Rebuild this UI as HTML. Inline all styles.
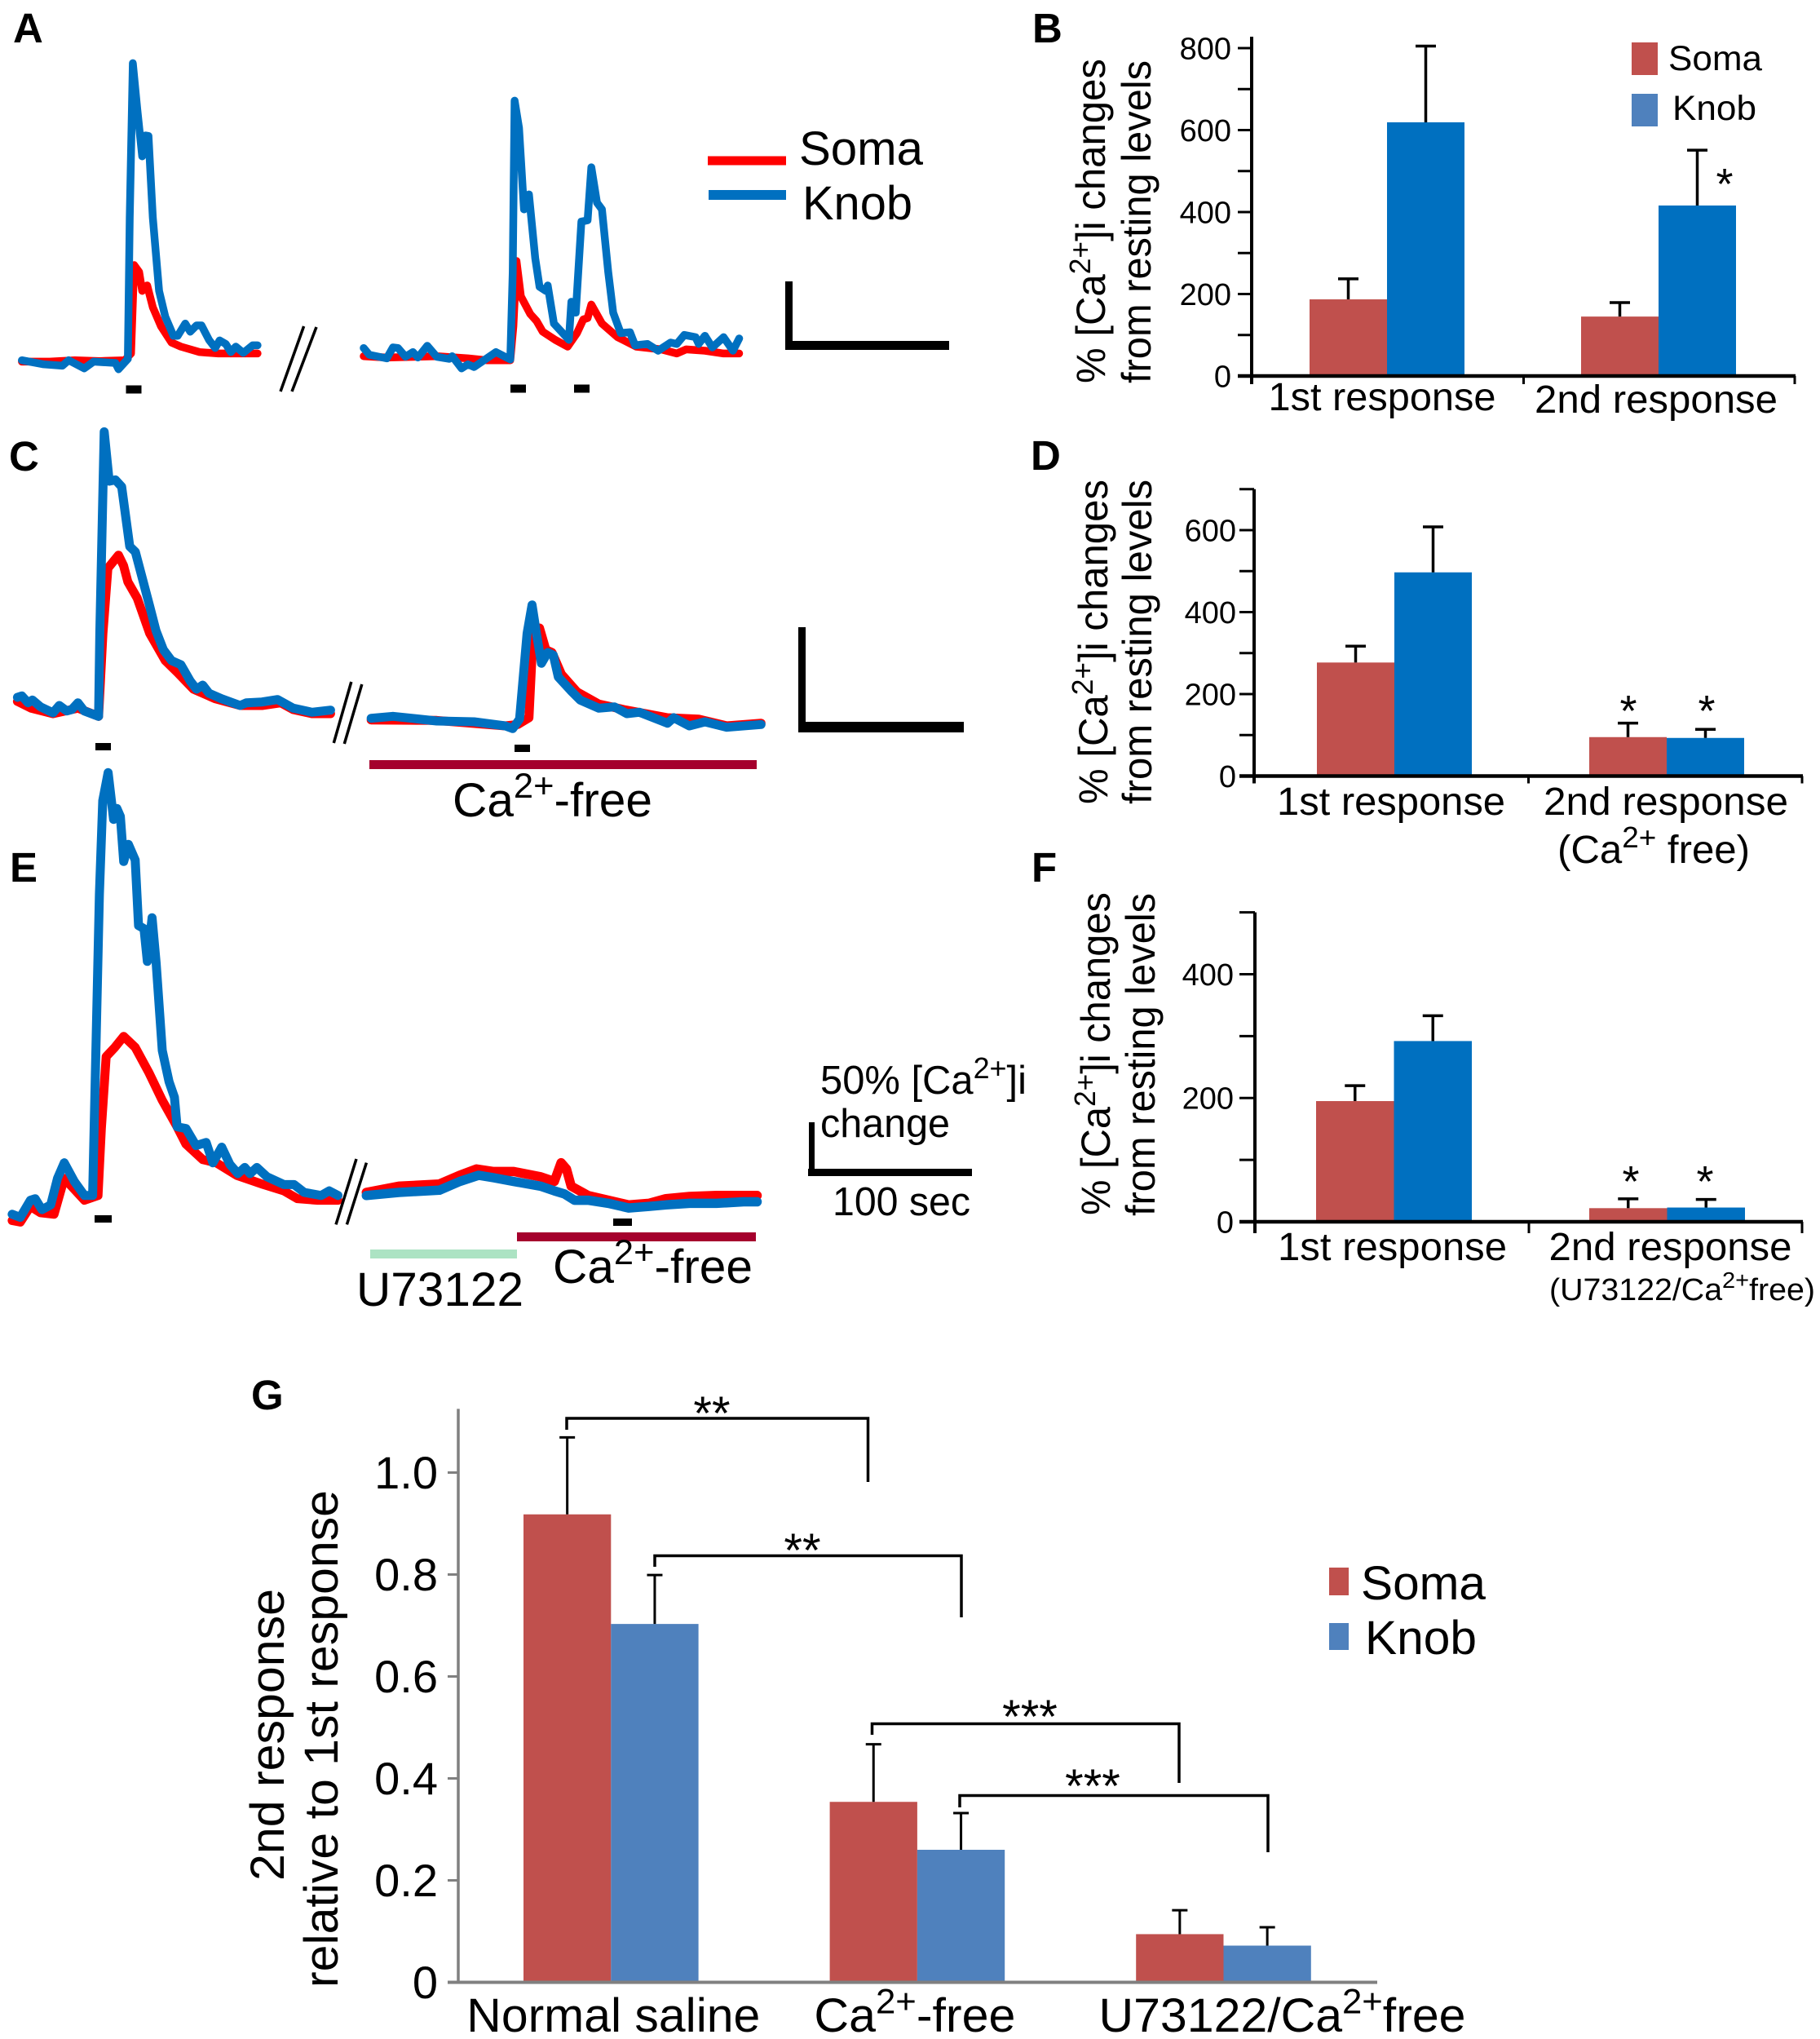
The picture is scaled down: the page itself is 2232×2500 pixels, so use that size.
<!DOCTYPE html>
<html lang="en">
<head>
<meta charset="utf-8">
<title>Calcium responses in soma and knob</title>
<style>
html,body{margin:0;padding:0;background:#fff;}
svg{display:block;}
text{font-family:"Liberation Sans",sans-serif;fill:#000;}
.panel{font-weight:bold;font-size:51px;}
</style>
</head>
<body>
<svg id="fig" xmlns="http://www.w3.org/2000/svg" width="2232" height="2500" viewBox="0 0 2232 2500">
  <rect x="0" y="0" width="2232" height="2500" fill="#fff"/>

  <g id="traces"></g>
  <g id="bars"></g>

  <text class="panel" x="16" y="52">A</text>
  <text class="panel" x="1266" y="52">B</text>
  <text class="panel" x="11" y="577">C</text>
  <text class="panel" x="1264" y="576">D</text>
  <text class="panel" x="12" y="1081">E</text>
  <text class="panel" x="1265" y="1081">F</text>
  <text class="panel" x="308" y="1728">G</text>

  <!-- panel A legend and scale -->
  <line x1="868" x2="964" y1="197" y2="197" stroke="#f00" stroke-width="11"/>
  <line x1="869" x2="964" y1="239" y2="239" stroke="#0070c0" stroke-width="12"/>
  <text x="980" y="202" font-size="58" textLength="152" lengthAdjust="spacingAndGlyphs">Soma</text>
  <text x="984" y="269" font-size="58" textLength="135" lengthAdjust="spacingAndGlyphs">Knob</text>
  <rect x="963" y="345" width="9" height="84" fill="#000"/>
  <rect x="963" y="418" width="201" height="11" fill="#000"/>
  <line x1="372.6" y1="400" x2="344" y2="480" stroke="#000" stroke-width="3.5"/>
  <line x1="388" y1="401" x2="358" y2="480" stroke="#000" stroke-width="3.5"/>
  <rect x="154.5" y="472.5" width="19" height="10" fill="#000"/>
  <rect x="626" y="471.5" width="19" height="10" fill="#000"/>
  <rect x="704" y="471.5" width="19" height="10" fill="#000"/>

  <!-- panel C annotations -->
  <rect x="979" y="769" width="9" height="129" fill="#000"/>
  <rect x="979" y="885" width="203" height="13" fill="#000"/>
  <line x1="430.8" y1="836" x2="409.3" y2="911" stroke="#000" stroke-width="3.5"/>
  <line x1="443.8" y1="839" x2="422.3" y2="912" stroke="#000" stroke-width="3.5"/>
  <rect x="117" y="911" width="19" height="9" fill="#000"/>
  <rect x="631" y="913" width="19" height="9" fill="#000"/>
  <rect x="453" y="932" width="475" height="11" fill="#a5002d"/>
  <text x="555" y="1001" font-size="58" textLength="245" lengthAdjust="spacingAndGlyphs">Ca<tspan font-size="43" dy="-23">2+</tspan><tspan dy="23">-free</tspan></text>

  <!-- panel E annotations -->
  <text x="1006" y="1341" font-size="49" textLength="253" lengthAdjust="spacingAndGlyphs">50% [Ca<tspan font-size="36" dy="-19">2+</tspan><tspan dy="19">]i</tspan></text>
  <text x="1006" y="1394" font-size="49" textLength="159" lengthAdjust="spacingAndGlyphs">change</text>
  <text x="1021" y="1490" font-size="49" textLength="169" lengthAdjust="spacingAndGlyphs">100 sec</text>
  <rect x="992" y="1376" width="7" height="66" fill="#000"/>
  <rect x="991" y="1433" width="201" height="9" fill="#000"/>
  <line x1="437" y1="1421" x2="412" y2="1501.4" stroke="#000" stroke-width="3.5"/>
  <line x1="449.4" y1="1425.6" x2="425.4" y2="1501.4" stroke="#000" stroke-width="3.5"/>
  <rect x="116" y="1490" width="21" height="9" fill="#000"/>
  <rect x="752" y="1494" width="23" height="9" fill="#000"/>
  <rect x="634" y="1511" width="293" height="11" fill="#a5002d"/>
  <rect x="454" y="1532" width="180" height="11" fill="#ace3c3"/>
  <text x="678" y="1573" font-size="58" textLength="245" lengthAdjust="spacingAndGlyphs">Ca<tspan font-size="43" dy="-23">2+</tspan><tspan dy="23">-free</tspan></text>
  <text x="437" y="1601" font-size="58" textLength="205" lengthAdjust="spacingAndGlyphs">U73122</text>

  <!-- panel B text -->
  <text transform="translate(1355,470) rotate(-90)" font-size="50" textLength="398" lengthAdjust="spacingAndGlyphs">% [Ca<tspan font-size="36" dy="-18">2+</tspan><tspan dy="18">]i changes</tspan></text>
  <text transform="translate(1411,470) rotate(-90)" font-size="50" textLength="396" lengthAdjust="spacingAndGlyphs">from resting levels</text>
  <rect x="2001" y="52" width="32" height="40" fill="#c0504d"/>
  <rect x="2001" y="115" width="32" height="40" fill="#4f81bd"/>
  <text x="2046" y="86" font-size="43" textLength="115" lengthAdjust="spacingAndGlyphs">Soma</text>
  <text x="2051" y="147" font-size="43" textLength="103" lengthAdjust="spacingAndGlyphs">Knob</text>
  <text x="2115" y="244" font-size="54" text-anchor="middle">*</text>

  <!-- panel D text -->
  <text transform="translate(1358,986) rotate(-90)" font-size="50" textLength="398" lengthAdjust="spacingAndGlyphs">% [Ca<tspan font-size="36" dy="-18">2+</tspan><tspan dy="18">]i changes</tspan></text>
  <text transform="translate(1412,986) rotate(-90)" font-size="50" textLength="398" lengthAdjust="spacingAndGlyphs">from resting levels</text>
  <text x="1910" y="1058" font-size="48" textLength="236" lengthAdjust="spacingAndGlyphs">(Ca<tspan font-size="36" dy="-19">2+</tspan><tspan dy="19"> free)</tspan></text>
  <text x="1997" y="890" font-size="54" text-anchor="middle">*</text>
  <text x="2093" y="890" font-size="54" text-anchor="middle">*</text>

  <!-- panel F text -->
  <text transform="translate(1361,1490) rotate(-90)" font-size="50" textLength="396" lengthAdjust="spacingAndGlyphs">% [Ca<tspan font-size="36" dy="-18">2+</tspan><tspan dy="18">]i changes</tspan></text>
  <text transform="translate(1416,1491) rotate(-90)" font-size="50" textLength="396" lengthAdjust="spacingAndGlyphs">from resting levels</text>
  <text x="1900" y="1594" font-size="38" textLength="326" lengthAdjust="spacingAndGlyphs">(U73122/Ca<tspan font-size="28" dy="-15">2+</tspan><tspan dy="15">free)</tspan></text>
  <text x="2000" y="1467" font-size="54" text-anchor="middle">*</text>
  <text x="2091" y="1467" font-size="54" text-anchor="middle">*</text>

  <!-- panel G text -->
  <text transform="translate(348,2306) rotate(-90)" font-size="58" textLength="358" lengthAdjust="spacingAndGlyphs">2nd response</text>
  <text transform="translate(414,2437) rotate(-90)" font-size="58" textLength="610" lengthAdjust="spacingAndGlyphs">relative to 1st response</text>
  <rect x="1630" y="1922" width="24" height="34" fill="#c0504d"/>
  <rect x="1630" y="1990" width="24" height="33" fill="#4f81bd"/>
  <text x="1669" y="1961" font-size="58" textLength="153" lengthAdjust="spacingAndGlyphs">Soma</text>
  <text x="1674" y="2028" font-size="58" textLength="137" lengthAdjust="spacingAndGlyphs">Knob</text>
  <g fill="none" stroke="#000" stroke-width="3.5">
    <path d="M695 1753V1739H1064.5V1817"/>
    <path d="M803 1921V1907.5H1179V1983"/>
    <path d="M1069.5 2127V2113.5H1446V2186"/>
    <path d="M1177 2216V2201.5H1555V2271"/>
  </g>
  <text x="873" y="1753" font-size="58" text-anchor="middle">**</text>
  <text x="984" y="1921" font-size="58" text-anchor="middle">**</text>
  <text x="1263" y="2125" font-size="58" text-anchor="middle">***</text>
  <text x="1340" y="2210" font-size="58" text-anchor="middle">***</text>
</svg>

<script>
// ---------- trace data (t = time units, v = response units) ----------
const a1SomaTime = [35,80,120,160,200,210,215,223,228,236,245,258,275,290,320,350,380,413];
const a1SomaValue = [70,70,75,72,75,100,425,400,330,350,270,200,140,125,105,100,100,100];
const a1KnobTime = [35,70,100,110,135,150,185,190,205,208,213,220,228,233,238,245,255,265,278,285,297,305,315,323,335,345,352,362,370,378,390,405,413];
const a1KnobValue = [75,60,55,75,45,70,65,42,80,600,1168,1000,825,902,900,600,330,235,165,165,210,180,203,203,150,120,148,135,105,125,102,130,130];
const a2SomaTime = [583,620,700,750,780,818,823,828,835,850,860,870,890,910,925,935,942,948,965,990,1020,1060,1085,1100,1130,1160,1185];
const a2SomaValue = [90,85,90,82,75,75,200,440,310,245,220,180,150,125,175,225,230,280,210,160,125,115,100,115,110,100,100];
const a2KnobTime = [583,592,620,630,638,650,662,670,685,700,720,725,740,750,760,795,818,822,825,832,840,848,858,865,875,878,888,912,916,923,932,942,948,957,965,975,983,995,1010,1018,1038,1055,1075,1085,1097,1115,1120,1130,1142,1160,1175,1185];
const a2KnobValue = [120,95,82,122,120,88,105,85,128,88,80,90,45,60,50,105,78,400,1030,930,630,685,450,345,330,350,210,150,290,250,585,590,785,655,630,400,250,175,178,130,135,110,140,135,168,160,135,165,122,160,110,155];

const c1SomaTime = [28,50,85,125,158,165,173,190,198,205,220,240,265,285,310,345,385,420,450,470,500,530];
const c1SomaValue = [150,125,105,125,95,400,640,688,650,590,530,400,300,255,195,160,135,135,145,120,105,105];
const c1KnobTime = [28,35,45,52,65,85,95,107,115,125,135,158,160,167,175,185,195,208,217,240,250,262,275,290,305,315,325,335,355,385,395,420,445,470,500,530];
const c1KnobValue = [165,170,145,155,130,108,135,115,120,145,115,95,400,1142,960,965,940,720,700,500,410,340,300,285,225,195,210,180,160,135,145,148,157,125,110,118];
const c2SomaTime = [595,700,810,830,848,855,865,875,885,900,925,960,1000,1070,1120,1165,1220];
const c2SomaValue = [82,80,60,65,90,420,420,340,330,250,185,140,120,90,85,60,70];
const c2KnobTime = [595,630,660,700,760,810,822,833,845,853,860,868,878,887,895,915,930,960,985,1005,1025,1070,1080,1105,1130,1165,1220];
const c2KnobValue = [88,95,88,78,75,60,50,85,400,505,400,290,330,320,240,190,155,125,130,105,110,70,90,60,75,55,65];

const e1SomaTime = [18,30,45,60,80,95,125,145,150,157,170,183,200,220,240,262,275,300,320,350,390,420,440,470,500];
const e1SomaValue = [55,50,100,80,75,190,120,135,350,580,610,645,610,530,440,355,300,250,240,200,170,150,125,120,120];
const e1KnobTime = [18,30,45,52,62,75,85,95,110,125,137,147,152,160,168,173,178,183,190,200,205,213,218,225,231,240,250,258,262,275,290,305,315,328,340,352,362,370,380,395,420,435,450,475,487,500];
const e1KnobValue = [75,65,120,125,90,105,190,240,180,135,135,1100,1400,1490,1340,1375,1350,1205,1260,1210,1000,990,885,1025,880,600,500,450,355,350,295,305,240,290,235,205,225,205,225,195,170,170,145,135,150,135];
const e2SomaTime = [542,590,650,680,705,730,760,800,820,830,838,845,870,900,930,960,985,1020,1060,1120];
const e2SomaValue = [145,165,172,200,220,212,212,195,180,240,220,165,135,120,105,110,125,132,135,135];
const e2KnobTime = [542,590,650,680,708,730,760,800,820,835,850,870,900,930,960,985,1020,1060,1100,1120];
const e2KnobValue = [135,145,152,180,200,192,180,165,150,140,120,120,110,95,100,105,110,110,115,115];

// ---------- bar chart data ----------
const bCategories = ['1st response','2nd response'];
const bSomaValues = [187,145];
const bSomaErrors = [50,34];
const bKnobValues = [619,416];
const bKnobErrors = [186,135];
const bTickValues = [0,100,200,300,400,500,600,700,800];
const bTickLabels = ['0','','200','','400','','600','','800'];

const dCategories = ['1st response','2nd response'];
const dSomaValues = [277,95];
const dSomaErrors = [40,34];
const dKnobValues = [497,93];
const dKnobErrors = [111,21];
const dTickValues = [0,100,200,300,400,500,600,700];
const dTickLabels = ['0','','200','','400','','600',''];

const fCategories = ['1st response','2nd response'];
const fSomaValues = [195,22];
const fSomaErrors = [25,15];
const fKnobValues = [292,23];
const fKnobErrors = [41,13];
const fTickValues = [0,100,200,300,400,500];
const fTickLabels = ['0','','200','','400',''];

const gCategories = ['Normal saline','Ca^2+^-free','U73122/Ca^2+^free'];
const gSomaValues = [0.918,0.354,0.0945];
const gSomaErrors = [0.151,0.113,0.047];
const gKnobValues = [0.703,0.26,0.072];
const gKnobErrors = [0.096,0.072,0.036];
const gTickValues = [0,0.2,0.4,0.6,0.8,1.0];
const gTickLabels = ['0','0.2','0.4','0.6','0.8','1.0'];

// ---------- helpers ----------
const NS = 'http://www.w3.org/2000/svg';
const traceLayer = document.getElementById('traces');
const barLayer = document.getElementById('bars');
function svgEl(tag, attrs, parent) {
  const el = document.createElementNS(NS, tag);
  for (const k in attrs) el.setAttribute(k, attrs[k]);
  parent.appendChild(el);
  return el;
}
function richText(el, str, fs) {
  const parts = str.split('^');
  let shift = 0;
  parts.forEach(function (part, i) {
    if (!part) return;
    const ts = document.createElementNS(NS, 'tspan');
    ts.textContent = part;
    if (i % 2 === 1) {
      ts.setAttribute('font-size', fs * 0.74);
      ts.setAttribute('dy', -fs * 0.39);
      shift = fs * 0.39;
    } else if (shift) {
      ts.setAttribute('dy', shift);
      shift = 0;
    }
    el.appendChild(ts);
  });
}

// ---------- traces ----------
const scaleAC = { xs: 0.765, ys: 0.3333 };
const scaleE = { xs: 0.829, ys: 0.3827 };
function timeToX(scale, t) { return t * scale.xs; }
function valueToY(scale, y0, v) { return y0 - v * scale.ys; }
function drawTrace(scale, y0, times, values, color, width, label) {
  const pts = times.map(function (t, i) {
    return timeToX(scale, t).toFixed(1) + ',' + valueToY(scale, y0, values[i]).toFixed(1);
  }).join(' ');
  const line = svgEl('polyline', { points: pts, fill: 'none', stroke: color, 'stroke-width': width, 'stroke-linejoin': 'round', 'stroke-linecap': 'round' }, traceLayer);
  
  
}
const RED = '#ff0000', BLUE = '#0070c0';
drawTrace(scaleAC, 466.7, a1SomaTime, a1SomaValue, RED, 9.5, 'trace-a-first-soma');
drawTrace(scaleAC, 466.7, a1KnobTime, a1KnobValue, BLUE, 9.5, 'trace-a-first-knob');
drawTrace(scaleAC, 466.7, a2SomaTime, a2SomaValue, RED, 9.5, 'trace-a-second-soma');
drawTrace(scaleAC, 466.7, a2KnobTime, a2KnobValue, BLUE, 9.5, 'trace-a-second-knob');
drawTrace(scaleAC, 910, c1SomaTime, c1SomaValue, RED, 11, 'trace-c-first-soma');
drawTrace(scaleAC, 910, c1KnobTime, c1KnobValue, BLUE, 11, 'trace-c-first-knob');
drawTrace(scaleAC, 910, c2SomaTime, c2SomaValue, RED, 11, 'trace-c-second-soma');
drawTrace(scaleAC, 910, c2KnobTime, c2KnobValue, BLUE, 11, 'trace-c-second-knob');
drawTrace(scaleE, 1517.5, e1SomaTime, e1SomaValue, RED, 11, 'trace-e-first-soma');
drawTrace(scaleE, 1517.5, e1KnobTime, e1KnobValue, BLUE, 11, 'trace-e-first-knob');
drawTrace(scaleE, 1517.5, e2SomaTime, e2SomaValue, RED, 11.5, 'trace-e-second-soma');
drawTrace(scaleE, 1517.5, e2KnobTime, e2KnobValue, BLUE, 11.5, 'trace-e-second-knob');

// ---------- bar charts ----------
function drawBarChart(cfg, categories, soma, somaErr, knob, knobErr, tickValues, tickLabels) {
  const g = svgEl('g', {}, barLayer);
  
  
  const y = function (v) { return cfg.y0 - v * cfg.pxPerUnit; };
  const barLeft = function (i, s) { return cfg.start + i * cfg.step + s * cfg.barW; };

  function drawSeries(values, errors, s, color, label) {
    values.forEach(function (v, i) {
      const left = barLeft(i, s);
      const bar = svgEl('rect', { x: left, y: y(v), width: cfg.barW, height: cfg.y0 - y(v), fill: color }, g);
      
      
      const cx = left + cfg.barW / 2;
      const top = y(v + errors[i]);
      const stem = svgEl('line', { x1: cx, x2: cx, y1: y(v), y2: top, stroke: '#000', 'stroke-width': cfg.errW }, g);
      
      
      const cap = svgEl('line', { x1: cx - cfg.capW / 2, x2: cx + cfg.capW / 2, y1: top, y2: top, stroke: '#000', 'stroke-width': cfg.errW }, g);
      
      
    });
  }
  drawSeries(soma, somaErr, 0, cfg.somaColor, 'soma');
  drawSeries(knob, knobErr, 1, cfg.knobColor, 'knob');

  const yAxis = svgEl('line', { x1: cfg.axisX, x2: cfg.axisX, y1: y(cfg.top) - (cfg.topOver || 0), y2: cfg.y0 + cfg.tickDown, stroke: cfg.axisColor, 'stroke-width': cfg.axisW }, g);
  
  
  const xAxis = svgEl('line', { x1: cfg.xLeft, x2: cfg.xRight, y1: cfg.y0, y2: cfg.y0, stroke: cfg.axisColor, 'stroke-width': cfg.axisW + 0.5 }, g);
  
  

  tickValues.forEach(function (v, i) {
    const tick = svgEl('line', { x1: cfg.tickLeft, x2: cfg.axisX, y1: y(v), y2: y(v), stroke: cfg.axisColor, 'stroke-width': cfg.tickW }, g);
    
    
    if (tickLabels[i]) {
      const lab = svgEl('text', { x: cfg.labelX, y: y(v) + cfg.labelDy, 'font-size': cfg.tickFont, 'text-anchor': 'end' }, g);
      
      
      lab.textContent = tickLabels[i];
    }
  });

  if (cfg.xTicks) {
    [cfg.axisX, (cfg.axisX + cfg.xRight) / 2, cfg.xRight - 1].forEach(function (tx) {
      const t = svgEl('line', { x1: tx, x2: tx, y1: cfg.y0, y2: cfg.y0 + cfg.tickDown, stroke: cfg.axisColor, 'stroke-width': cfg.tickW }, g);
      
      
    });
  }

  categories.forEach(function (c, i) {
    const cx = barLeft(i, 1) + cfg.catDx[i];
    const attrs = { x: cx, y: cfg.catY[i], 'font-size': cfg.catFont, 'text-anchor': 'middle' };
    if (cfg.catW) {
      attrs.textLength = cfg.catW[i];
      attrs.lengthAdjust = 'spacingAndGlyphs';
    }
    const t = svgEl('text', attrs, g);
    
    
    richText(t, c, cfg.catFont);
  });
}

const SOMA = '#c0504d', KNOB_DARK = '#0070c0', KNOB_LIGHT = '#4f81bd';
drawBarChart({ name: 'chart-b', y0: 461, pxPerUnit: 0.5025, top: 800, topOver: 14, axisX: 1535, xLeft: 1518, xRight: 2202, tickLeft: 1518, tickDown: 10,
  start: 1606, step: 333, barW: 95, errW: 3.5, capW: 25, somaColor: SOMA, knobColor: KNOB_DARK, axisColor: '#000', axisW: 4, tickW: 3,
  labelX: 1510, labelDy: 13.5, tickFont: 38, xTicks: true, catDx: [-6, -3], catY: [503, 506], catFont: 48, catW: [279, 298] },
  bCategories, bSomaValues, bSomaErrors, bKnobValues, bKnobErrors, bTickValues, bTickLabels);
drawBarChart({ name: 'chart-d', y0: 951.5, pxPerUnit: 0.5025, top: 700, topOver: 0, axisX: 1538, xLeft: 1520, xRight: 2211, tickLeft: 1520, tickDown: 9,
  start: 1615, step: 334, barW: 95, errW: 3.5, capW: 25, somaColor: SOMA, knobColor: KNOB_DARK, axisColor: '#000', axisW: 4, tickW: 3,
  labelX: 1516, labelDy: 13.5, tickFont: 38, xTicks: true, catDx: [-4, -1], catY: [999, 999], catFont: 48, catW: [280, 300] },
  dCategories, dSomaValues, dSomaErrors, dKnobValues, dKnobErrors, dTickValues, dTickLabels);
drawBarChart({ name: 'chart-f', y0: 1498, pxPerUnit: 0.7588, top: 500, topOver: 0, axisX: 1539, xLeft: 1520, xRight: 2211, tickLeft: 1520, tickDown: 14,
  start: 1614, step: 335, barW: 95.5, errW: 3.5, capW: 25, somaColor: SOMA, knobColor: KNOB_DARK, axisColor: '#000', axisW: 4, tickW: 3,
  labelX: 1513, labelDy: 13.5, tickFont: 38, xTicks: true, catDx: [-2, 4], catY: [1545, 1545], catFont: 48, catW: [281, 298] },
  fCategories, fSomaValues, fSomaErrors, fKnobValues, fKnobErrors, fTickValues, fTickLabels);
drawBarChart({ name: 'chart-g', y0: 2430.5, pxPerUnit: 625, top: 1.125, topOver: 0, axisX: 562, xLeft: 549, xRight: 1689, tickLeft: 549, tickDown: 0,
  start: 642, step: 375.6, barW: 107.3, errW: 3, capW: 19, somaColor: SOMA, knobColor: KNOB_LIGHT, axisColor: '#808080', axisW: 3.5, tickW: 3,
  labelX: 537, labelDy: 19.5, tickFont: 56, xTicks: false, catDx: [3, -3, 72], catY: [2491, 2491, 2491], catFont: 58, catW: [360, 247, 450] },
  gCategories, gSomaValues, gSomaErrors, gKnobValues, gKnobErrors, gTickValues, gTickLabels);
</script>
</body>
</html>
